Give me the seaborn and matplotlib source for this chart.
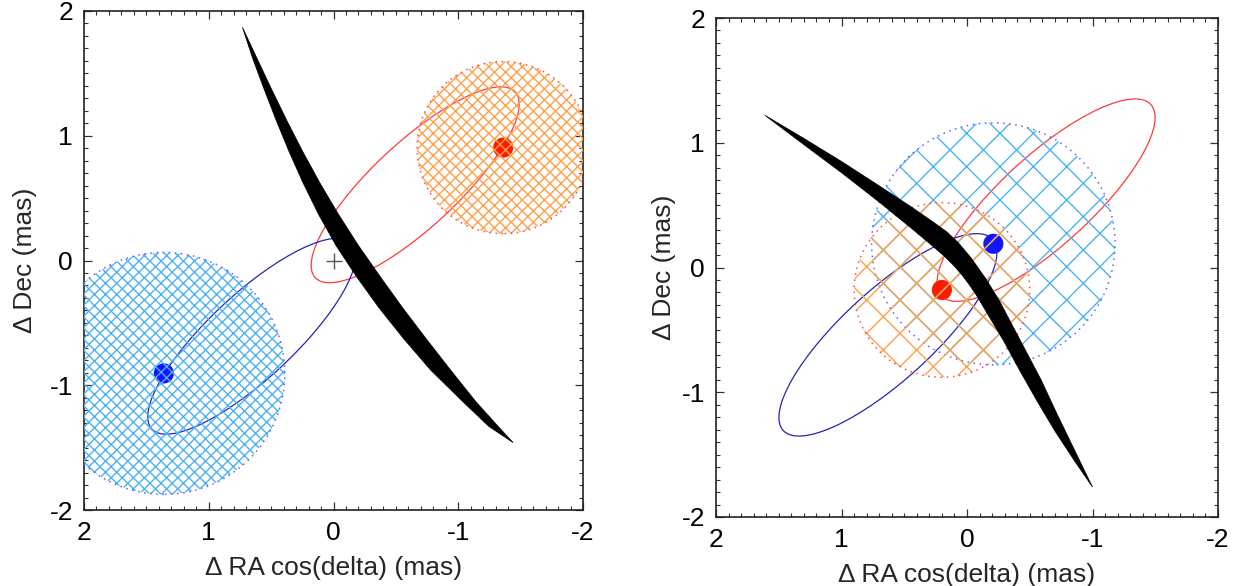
import matplotlib
matplotlib.use("Agg")
import matplotlib.pyplot as plt
from matplotlib.patches import Ellipse, Circle
from matplotlib.ticker import MultipleLocator
import pandas as pd
import seaborn as sns

# -----------------------------
# Left panel (epoch 1)
# -----------------------------
left_dots_x = [-1.36, 1.36]          # red (A), blue (B)
left_dots_y = [0.905, -0.905]
left_orbit_cx = [-0.655, 0.655]      # red orbit, blue orbit centres
left_orbit_cy = [0.607, -0.607]
left_orbit_a = 1.094
left_orbit_b = 0.34
left_orbit_angle = 137.1
left_err_radius = [0.69, 0.97]       # orange (A), blue (B) error discs

# black band, two edges (x, y) in mas
left_band_y = [1.87, 1.62, 1.37, 1.12, 0.87, 0.62, 0.37, 0.12, -0.13, -0.38, -0.63, -0.88, -1.13, -1.33, -1.46]
left_band_xa = [0.73, 0.648, 0.555, 0.458, 0.355, 0.243, 0.12, -0.02, -0.185, -0.365, -0.565, -0.78, -1.035, -1.245, -1.44]
left_band_xb = [0.73, 0.613, 0.495, 0.373, 0.245, 0.108, -0.04, -0.20, -0.375, -0.555, -0.745, -0.94, -1.14, -1.32, -1.44]

# -----------------------------
# Right panel (epoch 2)
# -----------------------------
right_dots_x = [0.20, -0.21]
right_dots_y = [-0.18, 0.19]
right_orbit_cx = [-0.63, 0.63]
right_orbit_cy = [0.54, -0.54]
right_orbit_a = 1.133
right_orbit_b = 0.36
right_orbit_angle = 137.4
right_err_radius = [0.70, 0.97]

right_band_upper_x = [1.61, 1.30, 1.00, 0.70, 0.45, 0.27, 0.16, 0.07, -0.03, -0.15, -0.26, -0.37, -0.48, -0.59, -0.72, -0.86, -1.00]
right_band_upper_y = [1.22, 1.035, 0.85, 0.655, 0.49, 0.365, 0.285, 0.20, 0.08, -0.09, -0.27, -0.48, -0.69, -0.90, -1.18, -1.47, -1.76]
right_band_lower_x = [1.61, 1.30, 1.00, 0.70, 0.45, 0.295, 0.18, 0.10, 0.04, -0.02, -0.08, -0.18, -0.29, -0.42, -0.555, -0.70, -0.85, -1.00]
right_band_lower_y = [1.22, 0.985, 0.76, 0.525, 0.32, 0.19, 0.09, 0.01, -0.06, -0.14, -0.23, -0.40, -0.585, -0.825, -1.065, -1.31, -1.54, -1.76]

ticks = [-2, -1, 0, 1, 2]

# colours
dot_colors = {"A": "#ff1a00", "B": "#1414ff"}
orbit_colors = ["#ff3a3a", "#2424b4"]
hatch_colors = ["#ffa04a", "#4cb2f2"]
rim_colors = ["#ff4a4a", "#6a5cff"]

sns.set_theme(style="ticks", rc={
    "xtick.direction": "in", "ytick.direction": "in",
    "xtick.top": True, "ytick.right": True,
    "xtick.major.size": 6, "ytick.major.size": 6,
    "xtick.minor.size": 3, "ytick.minor.size": 3,
    "xtick.major.width": 0.9, "ytick.major.width": 0.9,
    "xtick.minor.width": 0.8, "ytick.minor.width": 0.8,
    "xtick.color": "#333333", "ytick.color": "#333333",
    "axes.edgecolor": "#222222", "axes.linewidth": 1.2,
    "xtick.labelsize": 19, "ytick.labelsize": 19,
    "axes.labelsize": 19,
    "xtick.major.pad": 8, "ytick.major.pad": 8,
    "axes.unicode_minus": False,
})
plt.rcParams["font.family"] = ["Liberation Sans", "DejaVu Sans"]
plt.rcParams["hatch.linewidth"] = 1.0


def draw_panel(ax, dx, dy, ocx, ocy, oa, ob, oang, radii, hatch, band_x, band_y,
               origin_mark, ypad):
    # orbits
    for cx, cy, col in zip(ocx, ocy, orbit_colors):
        ax.add_patch(Ellipse((cx, cy), 2 * oa, 2 * ob, angle=oang, fill=False,
                             edgecolor=col, linewidth=0.9, zorder=2))
    # stars
    dots = pd.DataFrame({"x": dx, "y": dy, "star": ["A", "B"]})
    sns.scatterplot(data=dots, x="x", y="y", hue="star", palette=dot_colors,
                    s=210, edgecolor="none", legend=False, ax=ax, zorder=3)
    # error discs (hatched), blue first so orange sits on top
    for i in [1, 0]:
        x, y, r = dx[i], dy[i], radii[i]
        ax.add_patch(Circle((x, y), r, fill=False, hatch=hatch, edgecolor=hatch_colors[i],
                            linewidth=0, zorder=4))
        ax.add_patch(Circle((x, y), r, fill=False, edgecolor=rim_colors[i], linewidth=1.1,
                            linestyle=(0, (1, 3)), zorder=4))
    # black band
    ax.fill(band_x, band_y, color="black", linewidth=0.5, zorder=5)
    if origin_mark:
        ax.plot([0], [0], marker="+", color="#555555", markersize=12, mew=1.0, zorder=6)

    ax.set_xlim(2, -2)
    ax.set_ylim(-2, 2)
    ax.set_xticks(ticks)
    ax.set_yticks(ticks)
    ax.xaxis.set_minor_locator(MultipleLocator(0.1))
    ax.yaxis.set_minor_locator(MultipleLocator(0.1))
    ax.set_xlabel("\u0394 RA cos(delta) (mas)", labelpad=8)
    ax.set_ylabel("\u0394 Dec (mas)", labelpad=ypad)
    for lab in ax.get_xticklabels() + ax.get_yticklabels():
        lab.set_color("black")


fig = plt.figure(figsize=(12.41, 5.86), dpi=100)
ax1 = fig.add_axes([84 / 1241, 1 - 510 / 586, 499 / 1241, 499 / 586])
ax2 = fig.add_axes([716 / 1241, 1 - 517 / 586, 502 / 1241, 499 / 586])

draw_panel(ax1, left_dots_x, left_dots_y, left_orbit_cx, left_orbit_cy,
           left_orbit_a, left_orbit_b, left_orbit_angle, left_err_radius, "xxx",
           left_band_xa + left_band_xb[::-1], left_band_y + left_band_y[::-1], True, 9)
draw_panel(ax2, right_dots_x, right_dots_y, right_orbit_cx, right_orbit_cy,
           right_orbit_a, right_orbit_b, right_orbit_angle, right_err_radius, "x",
           right_band_upper_x + right_band_lower_x[::-1],
           right_band_upper_y + right_band_lower_y[::-1], False, 4)

fig.savefig("out.png", dpi=100)
